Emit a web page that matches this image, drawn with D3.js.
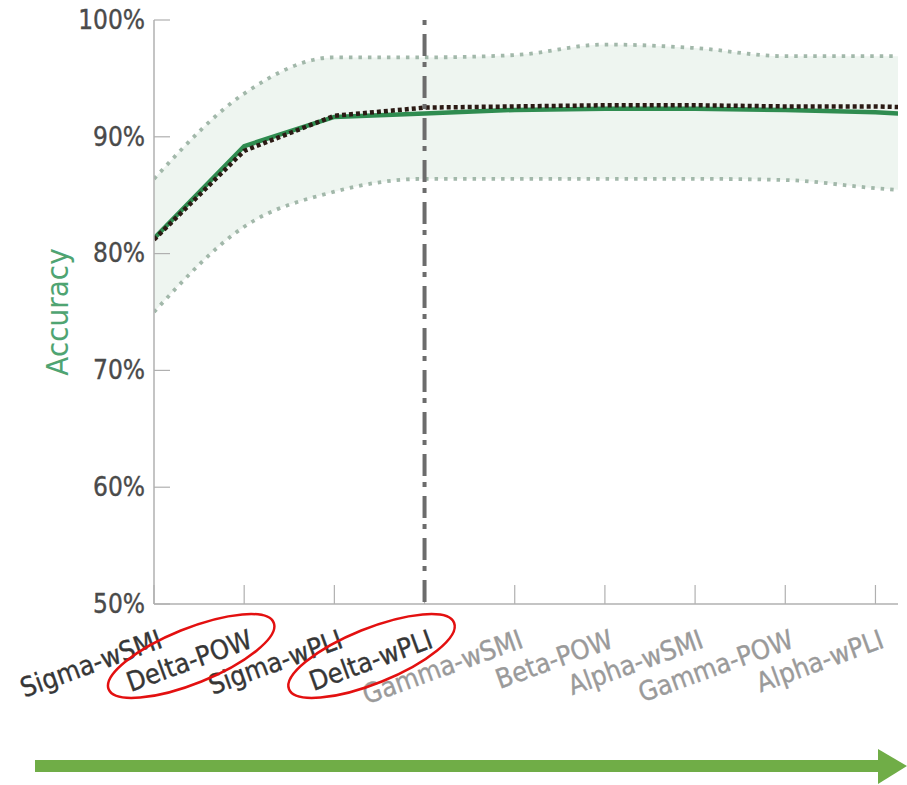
<!DOCTYPE html>
<html>
<head>
<meta charset="utf-8">
<script src="https://cdn.jsdelivr.net/npm/d3@7"></script>
<style>
  html, body { margin: 0; padding: 0; background: #ffffff; }
  svg { display: block; }
  text { font-family: "DejaVu Sans Condensed", "DejaVu Sans", sans-serif; font-stretch: condensed; }
</style>
</head>
<body>
<svg id="chart" width="907" height="785"></svg>
<script>
// Feature sets, in the order they are added to the classifier
const categories = ["Sigma-wSMI", "Delta-POW", "Sigma-wPLI", "Delta-wPLI", "Gamma-wSMI",
                    "Beta-POW", "Alpha-wSMI", "Gamma-POW", "Alpha-wPLI"];
// the series run one step past the last labelled feature set, where the axis is cut
const meanAccuracy  = [81.3, 89.2, 91.7, 92.0, 92.3, 92.4, 92.4, 92.3, 92.1, 91.7];
const bestAccuracy  = [81.2, 88.8, 91.8, 92.5, 92.6, 92.7, 92.7, 92.6, 92.6, 92.4];
const upperAccuracy = [86.4, 93.7, 96.8, 96.8, 97.0, 97.9, 97.6, 96.9, 96.9, 96.9];
const lowerAccuracy = [75.0, 82.3, 85.3, 86.4, 86.4, 86.4, 86.4, 86.3, 85.6, 85.1];
const yTicks = [50, 60, 70, 80, 90, 100];
const highlighted = ["Delta-POW", "Delta-wPLI"];
const cutoffCategory = "Delta-wPLI";
const activeCount = 4;   // feature sets kept before the cut-off

const svg = d3.select("#chart");
const plotLeft = 154, plotRight = 898, plotTop = 20, plotBottom = 604;

const x = d3.scaleLinear().domain([0, 8.25]).range([plotLeft, plotRight]);
const y = d3.scaleLinear().domain([50, 100]).range([plotBottom, plotTop]);

const idx = d3.range(meanAccuracy.length);

svg.append("defs").append("clipPath").attr("id", "plotClip")
  .append("rect").attr("x", plotLeft).attr("y", 0)
  .attr("width", plotRight - plotLeft).attr("height", plotBottom);

const plot = svg.append("g").attr("clip-path", "url(#plotClip)");

// spread band
const band = d3.area()
  .x(i => x(i)).y0(i => y(lowerAccuracy[i])).y1(i => y(upperAccuracy[i]))
  .curve(d3.curveMonotoneX);
plot.append("path").datum(idx).attr("d", band).attr("fill", "#eef5f0");

const boundLine = arr => d3.line().x(i => x(i)).y(i => y(arr[i])).curve(d3.curveMonotoneX);
[upperAccuracy, lowerAccuracy].forEach(arr => {
  plot.append("path").datum(idx).attr("d", boundLine(arr))
    .attr("fill", "none").attr("stroke", "#a2b8aa").attr("stroke-width", 3.8)
    .attr("stroke-dasharray", "3.5,6");
});

// axes
const axisColor = "#b0b0b0";
svg.append("line").attr("x1", plotLeft).attr("x2", plotLeft).attr("y1", plotTop).attr("y2", plotBottom)
  .attr("stroke", axisColor).attr("stroke-width", 1.5);
svg.append("line").attr("x1", plotLeft).attr("x2", plotRight).attr("y1", plotBottom).attr("y2", plotBottom)
  .attr("stroke", axisColor).attr("stroke-width", 1.5);

const yAxis = d3.axisLeft(y).tickValues(yTicks).tickSize(0).tickPadding(9)
  .tickFormat(d => d + "%");
const gy = svg.append("g").attr("transform", `translate(${plotLeft},0)`).call(yAxis);
gy.select(".domain").remove();
gy.attr("font-family", null).attr("font-size", null);
gy.selectAll("text").attr("font-size", 26).attr("fill", "#4a4a4a")
  .attr("stroke", "#4a4a4a").attr("stroke-width", 0.35);
svg.append("g").selectAll("line").data(yTicks).join("line")
  .attr("x1", plotLeft).attr("x2", plotLeft + 16).attr("y1", d => y(d)).attr("y2", d => y(d))
  .attr("stroke", axisColor).attr("stroke-width", 1.2);

svg.append("g").selectAll("line").data(categories).join("line")
  .attr("x1", (d, i) => x(i)).attr("x2", (d, i) => x(i))
  .attr("y1", plotBottom).attr("y2", plotBottom - 19)
  .attr("stroke", axisColor).attr("stroke-width", 1.2);

// lines
const line = arr => d3.line().x(i => x(i)).y(i => y(arr[i]));
plot.append("path").datum(idx).attr("d", line(meanAccuracy))
  .attr("fill", "none").attr("stroke", "#2f8c50").attr("stroke-width", 4.5);
plot.append("path").datum(idx).attr("d", line(bestAccuracy))
  .attr("fill", "none").attr("stroke", "#2b1a14").attr("stroke-width", 4.5)
  .attr("stroke-dasharray", "4,3");

// cut-off marker
const cutX = x(categories.indexOf(cutoffCategory));
svg.append("line").attr("x1", cutX).attr("x2", cutX).attr("y1", plotTop).attr("y2", plotBottom)
  .attr("stroke", "#6c6c6c").attr("stroke-width", 4)
  .attr("stroke-dasharray", "5,9,22,6");

// category labels
const labelColor = i => i < activeCount ? "#363636" : "#9a9a9a";
svg.append("g").selectAll("text").data(categories).join("text")
  .attr("transform", (d, i) => `translate(${x(i) + 10},647) rotate(-20)`)
  .attr("text-anchor", "end").attr("font-size", 27)
  .attr("fill", (d, i) => labelColor(i))
  .attr("stroke", (d, i) => labelColor(i)).attr("stroke-width", 0.35)
  .text(d => d);

// y label
svg.append("text").attr("transform", "translate(68,312) rotate(-90)")
  .attr("text-anchor", "middle").attr("font-size", 31).attr("fill", "#4fa472")
  .text("Accuracy");

// highlight rings
svg.append("g").selectAll("ellipse").data(highlighted).join("ellipse")
  .attr("transform", d => `translate(${x(categories.indexOf(d)) - 53},656) rotate(-22)`)
  .attr("rx", 89).attr("ry", 27.5)
  .attr("fill", "none").attr("stroke", "#e31010").attr("stroke-width", 2.5);

// progression arrow
svg.append("rect").attr("x", 35).attr("y", 760).attr("width", 846).attr("height", 12)
  .attr("fill", "#70ad47");
svg.append("path").attr("d", "M878,749 L907,766 L878,784 Z").attr("fill", "#70ad47");
</script>
</body>
</html>
